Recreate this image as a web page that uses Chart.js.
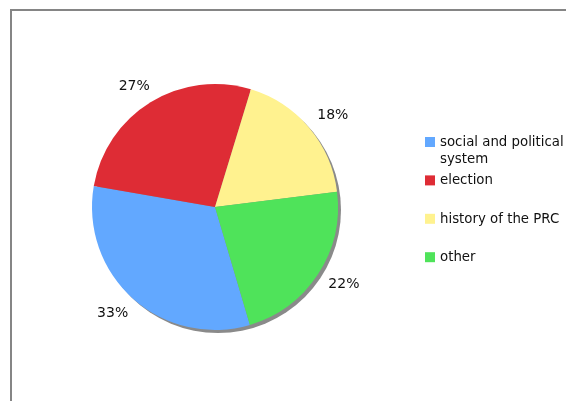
<!DOCTYPE html>
<html>
<head>
<meta charset="utf-8">
<script src="https://cdn.jsdelivr.net/npm/chart.js@4.4.1/dist/chart.umd.min.js"></script>
<style>
html,body{margin:0;padding:0;background:#fff;}
#wrap{position:relative;width:566px;height:401px;overflow:hidden;}
#frame{position:absolute;left:10px;top:9px;width:600px;height:420px;border-top:2px solid #858585;border-left:2px solid #858585;}
canvas{position:absolute;left:0;top:0;}
</style>
</head>
<body>
<div id="wrap">
<div id="frame"></div>
<canvas id="c" width="566" height="401"></canvas>
</div>
<script>
const categories = ["social and political system", "election", "history of the PRC", "other"];
const values = [32.3, 27.0, 18.3, 22.4];
const percentLabels = ["33%", "27%", "18%", "22%"];
const colors = ["#62a8ff", "#de2c35", "#fff28f", "#4fe35a"];

const LEGEND_FONT = "13.33px 'DejaVu Sans', Verdana, sans-serif";
const LABEL_FONT = "14px 'DejaVu Sans', Verdana, sans-serif";

const shadowPlugin = {
  id: 'pieShadow',
  beforeDatasetsDraw(chart) {
    const arc = chart.getDatasetMeta(0).data[0];
    if (!arc) return;
    const ctx = chart.ctx;
    ctx.save();
    ctx.fillStyle = '#8a8a8a';
    ctx.beginPath();
    ctx.arc(arc.x + 3, arc.y + 3, arc.outerRadius, 0, Math.PI * 2);
    ctx.fill();
    ctx.restore();
  }
};

const labelPlugin = {
  id: 'outerLabels',
  afterDatasetsDraw(chart) {
    const ctx = chart.ctx;
    const meta = chart.getDatasetMeta(0);
    ctx.save();
    ctx.font = LABEL_FONT;
    ctx.fillStyle = '#111';
    ctx.textAlign = 'center';
    ctx.textBaseline = 'middle';
    meta.data.forEach((a, i) => {
      const mid = (a.startAngle + a.endAngle) / 2;
      const dx = a.outerRadius + 31, dy = a.outerRadius + 19;
      ctx.fillText(percentLabels[i], a.x + Math.cos(mid) * dx, a.y + Math.sin(mid) * dy);
    });
    ctx.restore();
  }
};

const legendPlugin = {
  id: 'sideLegend',
  afterDraw(chart) {
    const ctx = chart.ctx;
    ctx.save();
    ctx.font = LEGEND_FONT;
    ctx.textBaseline = 'middle';
    ctx.textAlign = 'left';
    const x0 = 425, y0 = 137, step = 38.4, lineH = 16.6, maxW = 128;
    categories.forEach((label, i) => {
      const top = y0 + i * step;
      ctx.fillStyle = colors[i];
      ctx.fillRect(x0, top, 10, 10);
      const words = label.split(' ');
      const lines = [];
      let cur = '';
      words.forEach(w => {
        const t = cur ? cur + ' ' + w : w;
        if (ctx.measureText(t).width > maxW && cur) { lines.push(cur); cur = w; }
        else cur = t;
      });
      lines.push(cur);
      ctx.fillStyle = '#111';
      lines.forEach((ln, k) => ctx.fillText(ln, x0 + 15, top + 5.5 + k * lineH));
    });
    ctx.restore();
  }
};

new Chart(document.getElementById('c'), {
  type: 'pie',
  data: {
    labels: categories,
    datasets: [{
      data: values,
      backgroundColor: colors,
      borderWidth: 0,
      hoverOffset: 0
    }]
  },
  options: {
    responsive: false,
    animation: false,
    rotation: 163.5,
    layout: { padding: { left: 92, right: 228, top: 84, bottom: 71 } },
    plugins: { legend: { display: false }, tooltip: { enabled: false } }
  },
  plugins: [shadowPlugin, labelPlugin, legendPlugin]
});
</script>
</body>
</html>
